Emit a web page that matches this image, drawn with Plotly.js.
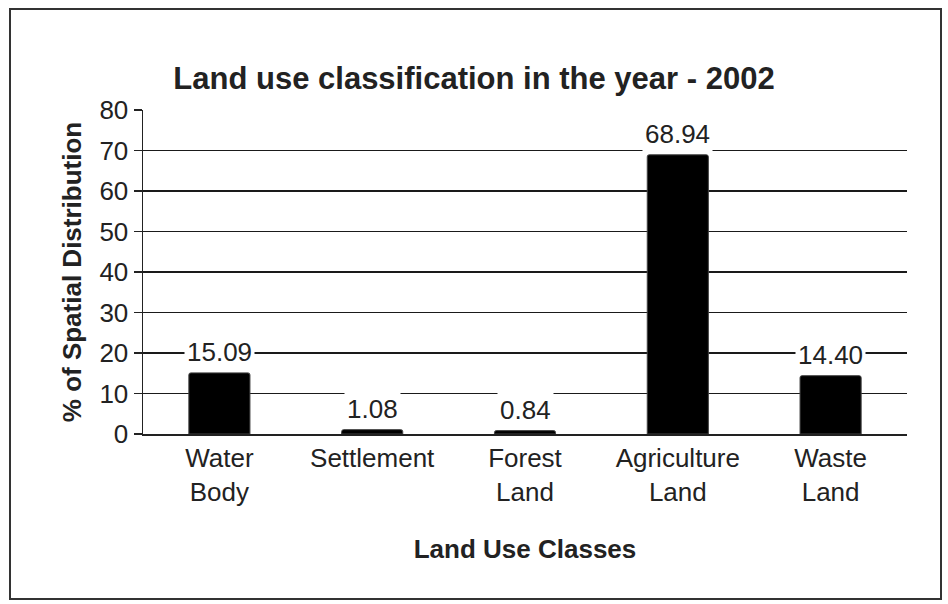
<!DOCTYPE html>
<html><head><meta charset="utf-8">
<script src="https://cdn.plot.ly/plotly-3.0.1.min.js"></script>
<style>
html,body{margin:0;padding:0;background:#fff;}
#wrap{position:relative;width:948px;height:604px;}
#chart{width:948px;height:604px;}
#frame{position:absolute;left:9px;top:8px;width:929px;height:588px;border:2px solid #333;pointer-events:none;}
</style></head>
<body><div id="wrap"><div id="chart"></div><div id="frame"></div></div>
<script>
const categories = ["Water<br>Body", "Settlement", "Forest<br>Land", "Agriculture<br>Land", "Waste<br>Land"];
const values = [15.09, 1.08, 0.84, 68.94, 14.40];
const valueLabels = ["15.09", "1.08", "0.84", "68.94", "14.40"];
const yTicks = [0, 10, 20, 30, 40, 50, 60, 70, 80];

const font = "Liberation Sans, Arial, sans-serif";
const trace = {
  type: "bar", x: categories, y: values,
  marker: {color: "#000", line: {color: "#444", width: 1}, cornerradius: 2},
  hoverinfo: "none"
};
const annotations = categories.map((c, i) => ({
  x: c, y: values[i], xref: "x", yref: "y", text: valueLabels[i],
  showarrow: false, yanchor: "bottom", yshift: 3,
  bgcolor: "#fff", borderpad: 2,
  font: {family: font, size: 26, color: "#222"}
}));
const layout = {
  width: 948, height: 604,
  margin: {l: 143, r: 41, t: 110, b: 170},
  paper_bgcolor: "#fff", plot_bgcolor: "#fff",
  showlegend: false, bargap: 0.6,
  title: {text: "<b>Land use classification in the year - 2002</b>", x: 0.5, xanchor: "center", y: 0.871, yanchor: "middle",
          font: {family: font, size: 31, color: "#222"}},
  xaxis: {type: "category", showline: true, linecolor: "#222", linewidth: 1.5, ticks: "",
          tickfont: {family: font, size: 26, color: "#222"},
          title: {text: "<b>Land Use Classes</b>", standoff: 34, font: {family: font, size: 26, color: "#222"}}},
  yaxis: {range: [0, 80], tickvals: yTicks, showline: true, linecolor: "#222", linewidth: 1.5,
          showgrid: true, gridcolor: "#1a1a1a", gridwidth: 1.6, zeroline: false,
          ticks: "outside", ticklen: 8, tickwidth: 1.5, tickcolor: "#222",
          tickfont: {family: font, size: 26, color: "#222"},
          title: {text: "<b>% of Spatial Distribution</b>", standoff: 10, font: {family: font, size: 26, color: "#222"}}},
  annotations: annotations
};
Plotly.newPlot("chart", [trace], layout, {staticPlot: true, displayModeBar: false});
</script></body></html>
